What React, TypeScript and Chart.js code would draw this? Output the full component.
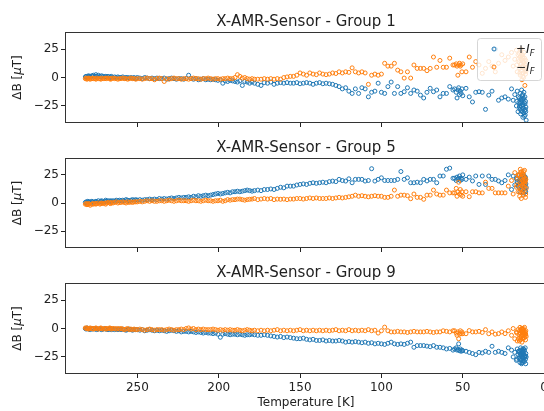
import { useEffect, useRef } from 'react';
import { Chart, registerables } from 'chart.js';
Chart.register(...registerables);

// Temperature [K] of each measurement (shared by all groups)
const TEMPS = [
  282, 281.5, 281, 280.5, 280, 279.5, 279, 278, 277.5, 277,
  276, 275.5, 275, 274, 273, 272.5, 272, 271, 270, 269.5,
  269, 268, 267, 266.5, 266, 265, 264, 263, 262, 261,
  260, 259, 258, 257, 256, 255, 254, 253, 252, 251,
  250, 248.5, 247, 245.5, 244, 242.5, 241, 239.5, 238, 236.5,
  235, 233.5, 232, 230.5, 229, 227.5, 226, 224.5, 223, 221.5,
  220, 218.5, 217, 215.5, 214, 212.5, 211, 209.5, 208, 206.5,
  205, 203.5, 202, 200.5, 199, 197.5, 196, 194.5, 193, 191.5,
  190, 188.5, 187, 185.5, 184, 182.5, 181, 179.5, 178, 176,
  174, 172, 170, 168, 166, 164, 162, 160, 158, 156,
  154, 152, 150, 148, 146, 144, 142, 140, 138, 136,
  134, 132, 130, 128, 126, 124, 122, 120, 118, 116,
  114, 112, 110, 108, 106, 104, 102, 100, 98, 96,
  94, 92, 90, 88, 86, 84, 82, 80, 78, 76,
  74, 72, 70, 68, 66, 64, 62, 60, 58, 56,
  55, 54, 53.5, 53, 52.5, 52, 51.5, 51, 50.5, 50,
  48, 46, 44, 42, 40, 38, 36, 34, 32, 30,
  28, 26, 24, 22, 20, 19, 18, 17, 16.5, 16,
  15.5, 15, 14.8, 14.6, 14.4, 14.2, 14, 13.8, 13.6, 13.4,
  13.2, 13, 12.8, 12.6, 12.4, 12.2, 12, 11.8, 11.6, 11.4,
  11.2, 11, 14.5, 13.5, 12.5, 15.2, 13.1, 12.9, 14.1, 11.5,
  16.8, 15.8, 14.9, 13.9, 12.7, 12.1, 11.7, 11.3, 13.3, 14.3,
];

// Group 1, +I_F
const G1_POS = [
  0.5, 1, 0, 1, 1.5, 0.5, 1, 1.5, 1, 2,
  1, 2.5, 1, 2, 1, 0.5, 1.5, 1, 0.5, 1,
  0.5, 1, 0, 0.5, 1, 0, 0.5, 0, 0.5, 0,
  0, 0.5, -0.5, 0, 0, -0.5, 0, -0.5, 0, -1,
  0, -0.5, -1, 0, -0.5, -1, -0.5, -1, -0.5, -1,
  -1, -0.5, -1.5, -1, -0.5, -1, -1.5, -1, -1, -1.5,
  -1, 2, -1, -1.5, -1, -2, -1.5, -1, -2, -1.5,
  -2, -1.5, -2, -2.5, -2, -5, -3, -3.5, -2.5, -3,
  -3.5, -4, -3, -7, -3.5, -4, -5, -4, -5, -6,
  -7, -4.5, -5, -4, -6, -5, -4.5, -5, -4.5, -5,
  -5, -4.5, -5.5, -5, -4.5, -5, -6, -5, -4.5, -5.5,
  -5, -5.5, -6, -7, -8, -10, -9, -12, -14, -10,
  -14, -9, -10, -17, -13, -12, -5, -13, -14, -8,
  -4, -14, -8, -14, -12.5, -9, -14, -11, -12, -15.5,
  -18, -13, -9.5, -12.5, -11, -17, -14, -14, -8, -11,
  -10, -13, -18, -11, -9, -15, -12, -14, -10, -16,
  -9.5, -17, -21.5, -13, -12.5, -13, -28, -15.5, -12, 25,
  -20, -18, -17, -19, -10, -20, -15, -25, -12, -30,
  -22, -18, -28, -14, -32, -20, -25, -11, -30, -16,
  -24, -35, -19, -27, -13, -22, -29, -17, -33, -21,
  -26, -37.5, -23, -20, -31, -26, -15, -24, -19, -28,
  -21, -17, -25, -29, -18, -34, -23, -30, -27, -22,
];

// Group 1, -I_F
const G1_NEG = [
  -1, -0.5, -1.5, -1, -0.5, -1, -1.5, -1, -0.5, -1,
  -1, -1.5, -0.5, -1, -1, -1.5, -0.5, -1, -1, -0.5,
  -1, -0.5, -1, -1.5, -1, -0.5, -1, -1, -1.5, -1,
  -1, -0.5, -1, -1, -1.5, -1, -0.5, -1, -1, -1.5,
  -1, -1, -1.5, -1, -0.5, -1, -1, -2, -1, -0.5,
  -1, -3.5, -1, -1.5, -1, -0.5, -1, -1, -1.5, -1,
  -1, -1.5, -1, -0.5, -1, -1, -1.5, -1, -1, -0.5,
  -1, -1.5, -1, -1, -1.5, -1, -1, -0.5, -1, -1,
  0, 2.5, 1, -0.5, 0, -1, -1.5, -1, -1.5, -1.5,
  -1.5, -1, -1.5, -1, -1.5, -1, -1.5, 0, 0.5, 1,
  1, 2, 4, 3, 2, 4, 3, 2.5, 4, 3,
  2.5, 3, 4, 3.5, 5, 4, 5, 4.5, 8.5, 5,
  4, 5, 4, -6, 2, 3, 2, 3, 12.5, 10,
  10, 12.5, 6.5, 5, -0.5, 5, -0.5, 11, 8, 8,
  8, 6, 8, 18, 9, 15, 9, 9, 17, 11,
  11, 12, 10, 2, 11, 12.5, 10, 11, 5, 12,
  5, 18, 9, 14, 11, 3.7, 8, 14, 10, 5,
  12.5, 20, 15, 18, 22, 10, 16, 24, 5, 20,
  14, 8, 18, 2, 12, 25, 6, 16, -2, 10,
  20, 4, 14, 0, 22, 8, 17, -7, 11, 3,
  15, 6, 19, 9, 13, 21, 1, 17, 12, 7,
  11, 16, 4, 20, 10, 15, 5, 9, 18, 24,
];

// Group 5, +I_F
const G5_POS = [
  0.5, 1, 0, 1.5, 1, 0.5, 1, 1.5, 1, 0.5,
  1, 1.5, 1, 2, 1, 1.5, 2, 1, 1.5, 2.5,
  1.5, 2, 1.5, 2, 1.5, 2, 1.5, 2.5, 2, 2.5,
  2, 2.5, 2, 3, 2.5, 2, 2.5, 3, 2.5, 3,
  2.5, 3, 2.5, 3, 3, 3.5, 3, 3.5, 3, 4,
  3.5, 4, 3.5, 4, 4.5, 4, 4.5, 5, 4.5, 5,
  5, 5.5, 5, 6, 5.5, 6.5, 6, 6.5, 7, 6.5,
  7, 7.5, 8, 8.5, 8, 8.5, 9, 9.5, 9, 10,
  10, 10.5, 10, 10.5, 11, 11.5, 11, 10.5, 11, 11.5,
  11, 12, 12, 12.5, 12, 13, 14, 13.5, 15, 15,
  15, 16, 16.5, 17, 16.5, 17.5, 18, 17.5, 18, 18.5,
  18, 19, 19.5, 19, 21, 20, 19.5, 21.5, 18, 21,
  21, 21, 19.5, 20, 30.5, 19.5, 21, 22.4, 20, 20,
  20, 20, 21, 28, 21, 22.4, 18, 18, 18.5, 18,
  21, 19.6, 21, 21, 18, 24, 24, 30, 31, 22,
  22, 20, 23, 21, 22, 24, 20, 22, 21, 25,
  21, 23, 19.6, 24, 16.5, 24, 16.5, 24, 21, 21,
  19.6, 18, 20, 25, 12, 24, 16, 22, 19, 25,
  14, 20, 10, 23, 17, 21, 12, 18, 24, 15,
  19, 22, 9, 16, 20, 13, 23, 18, 11, 21,
  17, 14, 22, 19, 25, 16, 12, 20, 18, 23,
  21, 15, 19, 13, 24, 17, 22, 10, 16, 20,
];

// Group 5, -I_F
const G5_NEG = [
  -1, -0.5, -1.5, -1, -0.5, -1, -2, -1, -0.5, -1,
  -0.5, -1, -0.5, 0, -1, -0.5, 0, -0.5, 0, -1,
  0, 0.5, 0, -0.5, 0.5, 0, 0.5, 1, 0, 0.5,
  0.5, 1, 0.5, 0, 1, 0.5, 1, 0.5, 1, 1,
  1, 1.5, 1, 1.5, 2, 1.5, 2, 1.5, 1.5, 2,
  2, 1.5, 2, 2.5, 2, 1.5, 2, 2.5, 2, 2,
  2, 1.5, 2, 2.5, 2, 2, 1.5, 2, 2.5, 2,
  2, 1.5, 2, 2, 2.5, 1.5, 2, 3, 2.5, 3,
  3, 3.5, 3.5, 3, 2.5, 3, 3.3, 3.5, 4, 3,
  3.5, 4, 3.5, 4, 3, 3.5, 3.3, 3.5, 3, 3.5,
  3.5, 4, 4, 3.5, 4, 4.5, 4, 4.5, 4, 4,
  4, 4.5, 4, 4.5, 5, 4.5, 5, 5.5, 6, 7,
  6, 6.5, 6, 5.5, 6, 6.5, 6, 6, 5, 5,
  6, 11.5, 6, 7, 7, 6.5, 3.8, 8, 5, 5,
  3.3, 7, 7, 11.5, 8, 7, 7, 11.5, 9, 9,
  9, 13, 6, 10, 18.5, 8, 12, 7, 10, 6,
  10, 5.6, 10, 10, 9, 9, 18.5, 13, 13, 9,
  9, 9, 9, 15, 20, 8, 27, 14, 22, 10,
  25, 6, 18, 30, 12, 23, 4, 28, 16, 20,
  11, 26, 19, 7, 24, 14, 29, 17, 22, 5,
  21, 13, 27, 9, 18, 25, 15, 23, 12, 19,
  16, 24, 10, 22, 28, 14, 20, 8, 26, 17,
];

// Group 9, +I_F
const G9_POS = [
  0, -0.5, 0.5, 0, -0.5, 0, -1, 0, -0.5, 0,
  -0.5, 0, -1, -0.5, 0, -0.5, -1, -0.5, 0, -0.5,
  -0.5, -1, -0.5, 0, -1, -0.5, -1, -0.5, -1, -0.5,
  -1, -0.5, -1, -1.5, -1, -0.5, -1, -1.5, -1, -1,
  -1, -1.5, -1, -2, -1.5, -1, -1.5, -2, -1.5, -2,
  -1.5, -2, -2.5, -2, -1.5, -2, -2.5, -2, -3, -2.5,
  -2.5, -3, -2.5, -3, -3.5, -3, -3.5, -4, -3.5, -4,
  -4, -4.5, -4, -5, -7.7, -5, -4.5, -5, -5.5, -5,
  -5, -5.5, -5, -5.5, -6, -5.5, -5.5, -5, -5.5, -6,
  -6, -5.5, -6, -6.5, -7, -7.5, -7, -8, -7.5, -8,
  -8.5, -9, -9, -8.5, -9.5, -10, -9.5, -10.5, -10.5, -10,
  -11, -10.5, -11, -11, -10.5, -11, -12, -11.5, -12, -11.5,
  -12, -12.5, -12, -13, -12.5, -13.5, -13, -13.5, -14, -13,
  -12, -13.5, -14, -13.5, -14, -13, -12, -16.5, -15, -15,
  -15, -15.5, -16, -15, -16.5, -16.5, -17, -18, -17.5, -19,
  -18, -17, -19, -18.5, -13.5, -19.5, -18, -20, -19, -19.5,
  -20, -21, -22, -23, -21, -21.5, -20, -21, -15.6, -21,
  -20, -21, -22, -17, -19, -25, -21, -28, -18, -23,
  -26, -20, -30, -22, -17, -27, -24, -31, -19, -25,
  -21, -28, -23, -18, -26, -20, -29, -24, -17, -27,
  -22, -25, -19, -30, -23, -21, -26, -18, -28, -24,
  -27, -20, -24, -22, -29, -19, -25, -31, -21, -23,
];

// Group 9, -I_F
const G9_NEG = [
  0.5, 0, 0.5, 0, -0.5, 0, 0.5, 0, 0, -0.5,
  0, 0.5, 0, -0.5, 0, 0.5, 0, -0.5, 0, 0,
  -0.5, 0, 0.5, 0, -0.5, 0, 0, -0.5, 0, -0.5,
  0, -0.5, -1, -0.5, 0, -1, -0.5, -1, -0.5, -1,
  -1, -0.5, -1, -1.5, -1, -0.5, -1, -1.5, -1, -1,
  -1, -1.5, -1, -0.5, -1, -1.5, -1, -1, -0.5, -1,
  0, 0.5, -0.5, 0, -1, -0.5, -1, -0.5, -1, -1,
  -1, -0.5, -1, -1.5, -1, -1.5, -1, -1.5, -1, -1.5,
  -1.5, -1, -1.5, -2, -1.5, -1, -1.5, -2, -1.5, -2,
  -1.5, -2, -1.5, -2, -1.5, -1, -2, -1.5, -2, -1.5,
  -2, -1.5, -1, -2, -1.5, -2, -1.5, -2, -1.5, -2,
  -1.5, -2, -1.5, -1, -2, -1.5, -2, -1, -2, -1.5,
  -2, -1.5, -2, -1, -2, -1.5, -4, -2, 1.2, -2,
  -3, -3, -2.5, -3, -3, -3.5, -3, -2.5, -3, -3,
  -3, -2.5, -3, -3.5, -3, -3, -2, -2.5, -3, -2,
  -2, -4, -6, -3, -9, -5, -2, -4.6, -3, -4.6,
  -4.6, -1.8, -3, -3, -2.5, -3.5, -1, -4.6, -3, -5,
  -4.5, -3, -4.5, -2, -6, 0, -9, -3, -11, -1,
  -5, -8, 1, -4, -10, -2, -7, 0, -12, -3,
  -6, -1, -9, -4, -2, -8, 1, -5, -3, -10,
  -2, -7, -4, 0, -6, -11, -3, -8, -1, -5,
  -4, -9, -2, -6, 0, -3, -7, -5, -1, -8,
];

const TITLES = ['X-AMR-Sensor - Group 1', 'X-AMR-Sensor - Group 5', 'X-AMR-Sensor - Group 9'];
const X_TICKS_STEP = 50;
const Y_TICKS_STEP = 25;

const BLUE = '#1f77b4';
const ORANGE = '#ff7f0e';
const FONT = '"DejaVu Sans", sans-serif';
const INK = '#222';
const CANVAS_W = 560;

type PanelProps = {
  top: number;
  height: number;
  padTop: number;
  xHeight: number;
  title: string;
  pos: number[];
  neg: number[];
  last: boolean;
  legend: boolean;
};

function drawSubLabel(ctx: CanvasRenderingContext2D, x: number, y: number, sign: string) {
  ctx.fillStyle = INK;
  ctx.textAlign = 'left';
  ctx.textBaseline = 'alphabetic';
  ctx.font = `12px ${FONT}`;
  ctx.fillText(sign, x, y);
  let w = ctx.measureText(sign).width;
  ctx.font = `italic 12.5px ${FONT}`;
  ctx.fillText('I', x + w, y);
  w += ctx.measureText('I').width;
  ctx.font = `italic 8.5px ${FONT}`;
  ctx.fillText('F', x + w, y + 3);
}

function Panel(p: PanelProps) {
  const ref = useRef<HTMLCanvasElement>(null);
  useEffect(() => {
    const decor = {
      id: 'decor',
      afterDatasetsDraw(chart: any) {
        const ctx: CanvasRenderingContext2D = chart.ctx;
        const a = chart.chartArea;
        const cx = (a.left + a.right) / 2;
        ctx.save();
        // frame
        ctx.strokeStyle = '#333';
        ctx.lineWidth = 1;
        ctx.strokeRect(a.left + 0.5, a.top + 0.5, a.right - a.left - 1, a.bottom - a.top - 1);
        // title
        ctx.fillStyle = INK;
        ctx.font = `15px ${FONT}`;
        ctx.textAlign = 'center';
        ctx.textBaseline = 'alphabetic';
        ctx.fillText(p.title, cx, a.top - 6);
        // y label
        ctx.save();
        ctx.translate(18, (a.top + a.bottom) / 2);
        ctx.rotate(-Math.PI / 2);
        ctx.textBaseline = 'middle';
        ctx.textAlign = 'left';
        const parts: [string, string][] = [
          ['ΔB [', `12px ${FONT}`],
          ['μ', `italic 12px ${FONT}`],
          ['T]', `12px ${FONT}`],
        ];
        let total = 0;
        for (const [t, f] of parts) { ctx.font = f; total += ctx.measureText(t).width; }
        let x = -total / 2;
        for (const [t, f] of parts) { ctx.font = f; ctx.fillText(t, x, 0); x += ctx.measureText(t).width; }
        ctx.restore();
        // x label
        if (p.last) {
          ctx.font = `12px ${FONT}`;
          ctx.textAlign = 'center';
          ctx.textBaseline = 'alphabetic';
          ctx.fillText('Temperature [K]', cx, 406 - p.top);
        }
        // legend
        if (p.legend) {
          const lx = 477, ly = a.top + 6, lw = 64, lh = 42;
          ctx.beginPath();
          if ((ctx as any).roundRect) (ctx as any).roundRect(lx + 0.5, ly + 0.5, lw, lh, 3);
          else ctx.rect(lx + 0.5, ly + 0.5, lw, lh);
          ctx.fillStyle = 'rgba(255,255,255,0.8)';
          ctx.fill();
          ctx.strokeStyle = 'rgba(204,204,204,0.8)';
          ctx.lineWidth = 1;
          ctx.stroke();
          ctx.strokeStyle = BLUE;
          ctx.beginPath();
          ctx.arc(494, ly + 11, 2, 0, Math.PI * 2);
          ctx.stroke();
          ctx.strokeStyle = ORANGE;
          ctx.beginPath();
          ctx.arc(494, ly + 29, 2, 0, Math.PI * 2);
          ctx.stroke();
          drawSubLabel(ctx, 516, ly + 15, '+');
          drawSubLabel(ctx, 516, ly + 33, '\u2212');
        }
        ctx.restore();
      },
    };

    const chart = new Chart(ref.current!, {
      type: 'scatter',
      data: {
        datasets: [
          {
            label: '-I_F',
            data: TEMPS.map((t, i) => ({ x: t, y: p.neg[i] })),
            borderColor: ORANGE,
            backgroundColor: 'rgba(0,0,0,0)',
            pointRadius: 2,
            pointBorderWidth: 1,
            borderWidth: 1,
            order: 0,
          },
          {
            label: '+I_F',
            data: TEMPS.map((t, i) => ({ x: t, y: p.pos[i] })),
            borderColor: BLUE,
            backgroundColor: 'rgba(0,0,0,0)',
            pointRadius: 2,
            pointBorderWidth: 1,
            borderWidth: 1,
            order: 1,
          },
        ],
      },
      options: {
        animation: false,
        responsive: false,
        events: [],
        layout: { padding: { top: p.padTop, left: 0, right: CANVAS_W - 547, bottom: 0 } },
        plugins: { legend: { display: false }, tooltip: { enabled: false }, title: { display: false } },
        scales: {
          x: {
            type: 'linear',
            reverse: true,
            min: -1.8,
            max: 294.5,
            afterFit: (s: any) => { s.height = p.xHeight; s.paddingLeft = 0; s.paddingRight = 0; },
            ticks: {
              stepSize: X_TICKS_STEP,
              includeBounds: false,
              autoSkip: false,
              maxRotation: 0,
              display: p.last,
              color: INK,
              padding: 3,
              font: { family: FONT, size: 12 },
            },
            grid: { drawOnChartArea: false, drawTicks: true, tickLength: 4, color: '#222' },
            border: { display: false },
          },
          y: {
            type: 'linear',
            min: -40,
            max: 40,
            afterFit: (s: any) => { s.width = 65; s.paddingTop = 0; s.paddingBottom = 0; },
            ticks: {
              stepSize: Y_TICKS_STEP,
              includeBounds: false,
              autoSkip: false,
              color: INK,
              padding: 2,
              font: { family: FONT, size: 12 },
              callback: (v: any) => String(v).replace('-', '\u2212'),
            },
            grid: { drawOnChartArea: false, drawTicks: true, tickLength: 4, color: '#222' },
            border: { display: false },
          },
        },
      } as any,
      plugins: [decor],
    });
    return () => chart.destroy();
  }, []);
  return (
    <canvas
      ref={ref}
      width={CANVAS_W}
      height={p.height}
      style={{ position: 'absolute', left: 0, top: p.top, width: CANVAS_W, height: p.height }}
    />
  );
}

export default function App() {
  return (
    <div style={{ position: 'absolute', left: 0, top: 0, width: 544, height: 411, background: '#fff', overflow: 'hidden' }}>
      <Panel top={0} height={135} padTop={32} xHeight={12} title={TITLES[0]} pos={G1_POS} neg={G1_NEG} last={false} legend={true} />
      <Panel top={135} height={125} padTop={23} xHeight={12} title={TITLES[1]} pos={G5_POS} neg={G5_NEG} last={false} legend={false} />
      <Panel top={260} height={151} padTop={23} xHeight={37} title={TITLES[2]} pos={G9_POS} neg={G9_NEG} last={true} legend={false} />
    </div>
  );
}
